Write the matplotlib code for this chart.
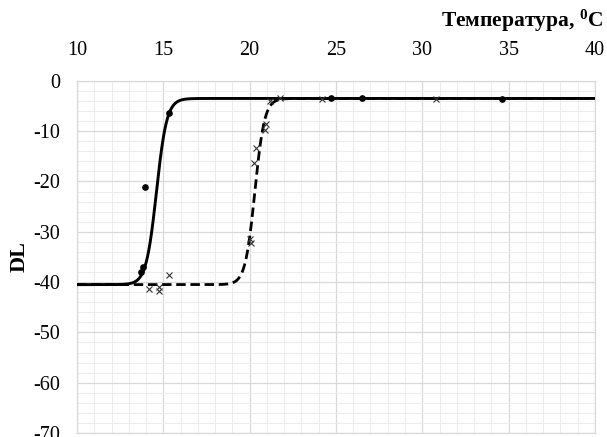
import numpy as np
import matplotlib.pyplot as plt
from matplotlib.ticker import MultipleLocator

plt.rcParams['font.family'] = ['Liberation Serif', 'DejaVu Serif']
plt.rcParams['mathtext.fontset'] = 'custom'
plt.rcParams['mathtext.rm'] = 'Liberation Serif'
plt.rcParams['mathtext.bf'] = 'Liberation Serif:bold'
plt.rcParams['axes.unicode_minus'] = False

# measured points, heating (dots) and cooling (crosses)
t_heat = [13.7, 13.8, 13.95, 15.33, 24.7, 26.5, 34.6]
dl_heat = [-38.0, -37.0, -21.1, -6.4, -3.4, -3.4, -3.6]

t_cool = [14.15, 14.75, 14.75, 15.33, 20.02, 20.05, 20.25, 20.37, 20.88,
          20.94, 21.2, 21.75, 24.2, 30.8]
dl_cool = [-41.3, -41.7, -41.0, -38.6, -31.5, -32.3, -16.3, -13.3, -9.7,
           -8.5, -4.1, -3.4, -3.6, -3.6]

# Boltzmann fit parameters: bottom, top, midpoint, width
fit_heat = (-40.5, -3.5, 14.6, 0.30)
fit_cool = (-40.5, -3.5, 20.3, 0.28)


def boltzmann(t, p):
    a1, a2, t0, w = p
    return a2 + (a1 - a2) / (1 + np.exp((t - t0) / w))


t = np.linspace(10, 40, 1200)

fig = plt.figure(figsize=(6.07, 4.37), dpi=100)
ax = fig.add_axes([0.127, 0.009, 0.853, 0.806])

ax.plot(t, boltzmann(t, fit_cool), color='black', lw=2.0, ls=(0, (3.4, 1.7)), zorder=3)
ax.plot(t, boltzmann(t, fit_heat), color='black', lw=2.1, zorder=4)
ax.plot(t_heat, dl_heat, 'o', color='black', ms=3.8, zorder=5)
ax.plot(t_cool, dl_cool, 'x', color='#333333', ms=4.2, mew=0.8, zorder=5)

ax.set_xlim(10, 40)
ax.set_ylim(-70, 0)
ax.xaxis.set_major_locator(MultipleLocator(5))
ax.xaxis.set_minor_locator(MultipleLocator(1))
ax.yaxis.set_major_locator(MultipleLocator(10))
ax.yaxis.set_minor_locator(MultipleLocator(2))
ax.grid(which='major', color='#d9d9d9', lw=0.9)
ax.grid(which='minor', color='#ececec', lw=0.7)
ax.set_axisbelow(True)

ax.xaxis.tick_top()
ax.tick_params(which='both', length=0)
ax.tick_params(axis='x', labelsize=14.5, pad=15)
ax.tick_params(axis='y', labelsize=14.5, pad=12)
for s in ax.spines.values():
    s.set_color('#d9d9d9')
    s.set_linewidth(0.9)

ax.set_ylabel('DL', fontsize=16, fontweight='bold', labelpad=3)
fig.text(0.993, 0.952, r'Температура, $\mathbf{^0}$C', ha='right', va='center',
         fontsize=15.5, fontweight='bold')

fig.savefig('out.png', dpi=100)
